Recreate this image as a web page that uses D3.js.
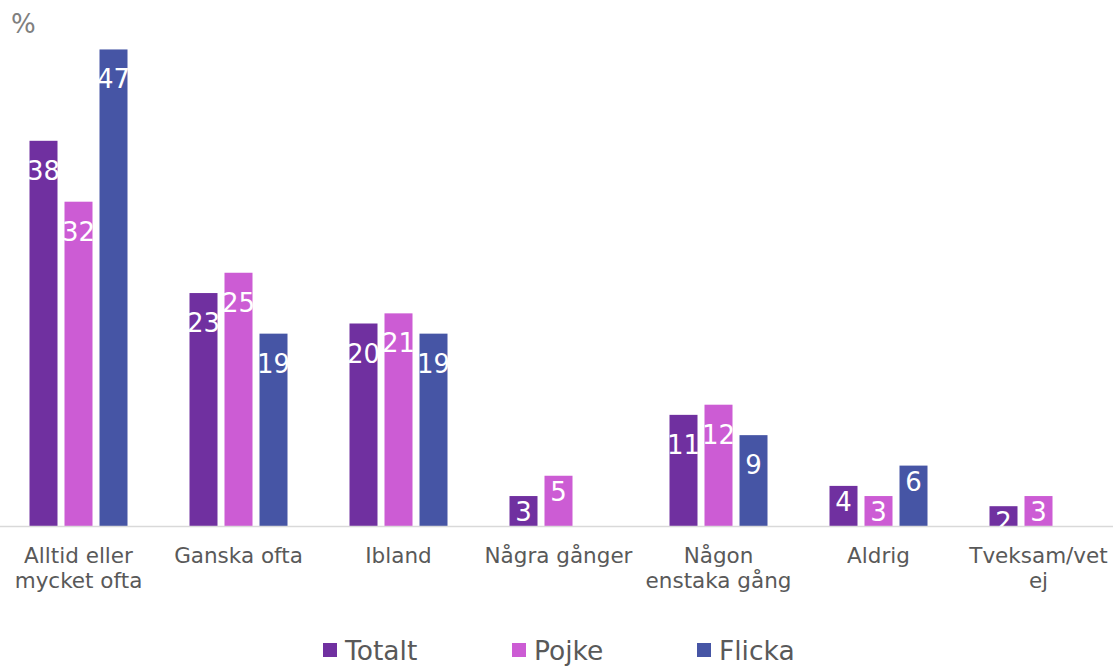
<!DOCTYPE html>
<html>
<head>
<meta charset="utf-8">
<script src="https://cdn.jsdelivr.net/npm/d3@7"></script>
<style>
  html, body { margin: 0; padding: 0; background: #fff; }
  svg { display: block; font-family: "DejaVu Sans", Verdana, sans-serif; }
</style>
</head>
<body>
<div id="chart"></div>
<script>
const categories = [
  ["Alltid eller", "mycket ofta"],
  ["Ganska ofta"],
  ["Ibland"],
  ["Några gånger"],
  ["Någon", "enstaka gång"],
  ["Aldrig"],
  ["Tveksam/vet", "ej"],
];
const seriesNames = ["Totalt", "Pojke", "Flicka"];
const totalt = [38, 23, 20, 3, 11, 4, 2];
const pojke = [32, 25, 21, 5, 12, 3, 3];
const flicka = [47, 19, 19, null, 9, 6, null];

const COLORS = { Totalt: "#7030a0", Pojke: "#cc5cd4", Flicka: "#4655a5" };
const WIDTH = 1113;
const HEIGHT = 666;
const BASELINE = 526.5;

const catKeys = categories.map((c) => c.join(" "));
const valuesBySeries = { Totalt: totalt, Pojke: pojke, Flicka: flicka };

const svg = d3.select("#chart")
  .append("svg")
  .attr("width", WIDTH)
  .attr("height", HEIGHT)
  .attr("viewBox", `0 0 ${WIDTH} ${HEIGHT}`);

const x0 = d3.scaleBand().domain(catKeys).range([-1.5, 1118.5]);
const groupWidth = 98;
const x1 = d3.scaleBand().domain(seriesNames).range([0, groupWidth]).paddingInner(0.2);
const y = d3.scaleLinear().domain([0, 50]).range([BASELINE, BASELINE - 507.5]);

svg.append("defs")
  .append("clipPath")
  .attr("id", "plot-clip")
  .append("rect")
  .attr("x", 0)
  .attr("y", 0)
  .attr("width", WIDTH)
  .attr("height", BASELINE);

// unit label
svg.append("text")
  .attr("x", 11)
  .attr("y", 33)
  .attr("fill", "#7f7f7f")
  .attr("font-size", 26)
  .text("%");

// flatten to one record per bar
const bars = [];
catKeys.forEach((cat, i) => {
  seriesNames.forEach((s) => {
    const v = valuesBySeries[s][i];
    if (v != null) bars.push({ cat, series: s, value: v });
  });
});

const barX = (d) => x0(d.cat) + x0.bandwidth() / 2 - groupWidth / 2 + x1(d.series);

svg.append("g")
  .selectAll("rect")
  .data(bars)
  .join("rect")
  .attr("x", barX)
  .attr("y", (d) => y(d.value))
  .attr("width", x1.bandwidth())
  .attr("height", (d) => BASELINE - y(d.value))
  .attr("fill", (d) => COLORS[d.series]);

// axis line
svg.append("line")
  .attr("x1", 0)
  .attr("x2", WIDTH)
  .attr("y1", BASELINE)
  .attr("y2", BASELINE)
  .attr("stroke", "#d9d9d9")
  .attr("stroke-width", 1.5);

// value labels, inside end, clipped at the axis like the original
svg.append("g")
  .attr("clip-path", "url(#plot-clip)")
  .selectAll("text")
  .data(bars)
  .join("text")
  .attr("x", (d) => barX(d) + x1.bandwidth() / 2)
  .attr("y", (d) => {
    const h = BASELINE - y(d.value);
    return y(d.value) + (h >= 80 ? 39 : 25);
  })
  .attr("text-anchor", "middle")
  .attr("fill", "#fff")
  .attr("font-size", 26)
  .text((d) => d.value);

// category labels
const catLabels = svg.append("g")
  .selectAll("text")
  .data(categories)
  .join("text")
  .attr("x", (d, i) => x0(catKeys[i]) + x0.bandwidth() / 2)
  .attr("y", 563)
  .attr("text-anchor", "middle")
  .attr("fill", "#595959")
  .attr("font-size", 21.5);

catLabels.selectAll("tspan")
  .data((d) => d)
  .join("tspan")
  .attr("x", function () { return this.parentNode.getAttribute("x"); })
  .attr("dy", (d, i) => (i === 0 ? 0 : 25))
  .text((d) => d);

// legend
const legendX = [323, 512, 697];
const legend = svg.append("g")
  .selectAll("g")
  .data(seriesNames)
  .join("g")
  .attr("transform", (d, i) => `translate(${legendX[i]} 643)`);

legend.append("rect")
  .attr("width", 14)
  .attr("height", 14)
  .attr("fill", (d) => COLORS[d]);

legend.append("text")
  .attr("x", 22)
  .attr("y", 16.5)
  .attr("fill", "#595959")
  .attr("font-size", 26.5)
  .text((d) => d);
</script>
</body>
</html>
